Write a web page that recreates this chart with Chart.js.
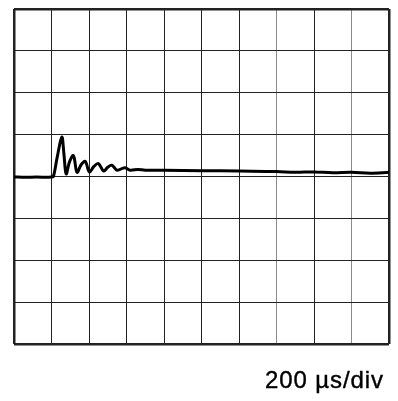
<!DOCTYPE html>
<html>
<head>
<meta charset="utf-8">
<script src="https://cdn.jsdelivr.net/npm/chart.js@4"></script>
<style>
    html, body { margin: 0; padding: 0; background: #fff; }
    #wrap { position: relative; width: 398px; height: 401px; }
    #scopeChart { position: absolute; left: 0; top: 0; }
    #timebase {
        position: absolute;
        left: 265px;
        top: 368px;
        font-family: "Liberation Sans", Arial, sans-serif;
        font-size: 24px;
        line-height: 24px;
        letter-spacing: 0.9px;
        color: #000;
        -webkit-text-stroke: 0.4px #000;
        white-space: nowrap;
    }
</style>
</head>
<body>
<div id="wrap">
    <canvas id="scopeChart" width="398" height="401"></canvas>
    <div id="timebase">200 µs/div</div>
</div>
<script>
// time in microseconds, amplitude in screen divisions (0 = centre line)
const timeUs = [
    0, 60, 120, 180, 200, 210, 230, 255, 266, 278, 296, 317, 336, 358, 380,
    402, 426, 450, 478, 500, 522, 550, 590, 620, 660, 700, 800, 1000, 1200,
    1400, 1500, 1600, 1700, 1800, 1900, 2000
];
const traceDiv = [
    -0.01, -0.02, -0.01, -0.02, -0.01, 0.0, 0.45, 0.94, 0.55, 0.06, 0.35, 0.50, 0.10, 0.28, 0.36,
    0.11, 0.24, 0.31, 0.13, 0.22, 0.27, 0.15, 0.21, 0.15, 0.17, 0.15, 0.15, 0.14, 0.13,
    0.12, 0.10, 0.11, 0.09, 0.10, 0.08, 0.10
];
const usPerDiv = 200;
const divisionsX = 10;
const divisionsY = 4;   // each side of centre

const points = timeUs.map((t, i) => ({ x: t, y: traceDiv[i] }));

const ctx = document.getElementById('scopeChart').getContext('2d');

function gridWidth(c, last) {
    return (c.index === 0 || c.index === last) ? 2.5 : 1;
}

new Chart(ctx, {
    type: 'scatter',
    data: {
        datasets: [{
            data: points,
            showLine: true,
            borderColor: '#000',
            borderWidth: 3,
            pointRadius: 0,
            tension: 0.35
        }]
    },
    options: {
        responsive: false,
        animation: false,
        layout: { padding: { left: 14, top: 9, right: 9, bottom: 57 } },
        plugins: {
            legend: { display: false },
            tooltip: { enabled: false }
        },
        scales: {
            x: {
                type: 'linear',
                min: 0,
                max: usPerDiv * divisionsX,
                ticks: { display: false, stepSize: usPerDiv },
                border: { display: false },
                grid: {
                    drawTicks: false,
                    lineWidth: c => gridWidth(c, divisionsX),
                    color: c => (c.index === 7 || c.index === 9) ? '#8a8a8a' : '#222'
                }
            },
            y: {
                min: -divisionsY,
                max: divisionsY,
                ticks: { display: false, stepSize: 1 },
                border: { display: false },
                grid: {
                    drawTicks: false,
                    lineWidth: c => gridWidth(c, divisionsY * 2),
                    color: '#222'
                }
            }
        }
    }
});
</script>
</body>
</html>
